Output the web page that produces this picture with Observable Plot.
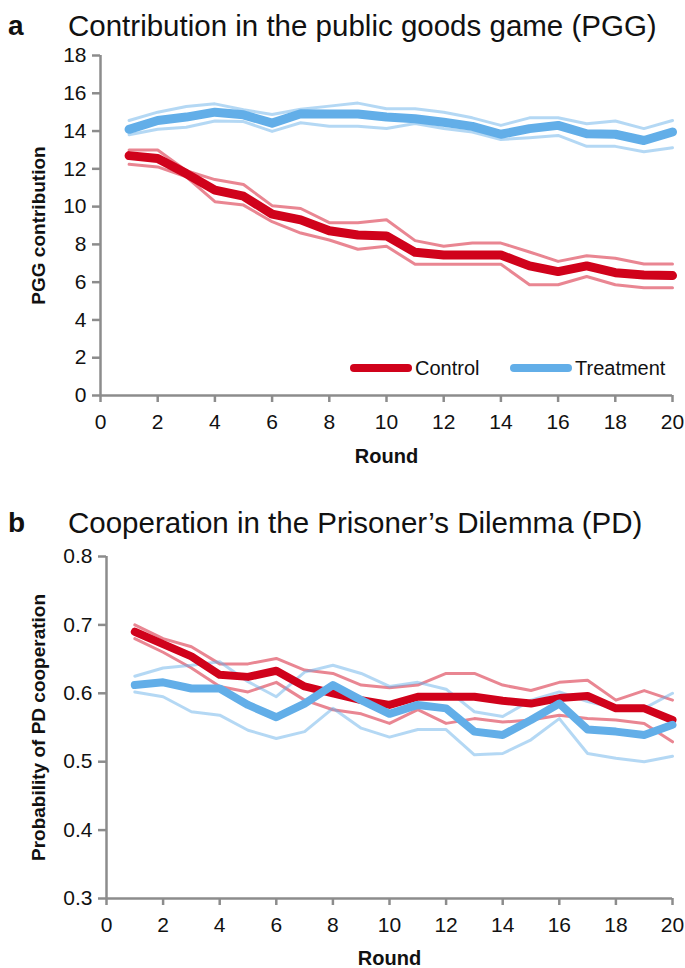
<!DOCTYPE html>
<html><head><meta charset="utf-8">
<script src="https://cdn.jsdelivr.net/npm/d3@7"></script>
<script src="https://cdn.jsdelivr.net/npm/@observablehq/plot@0.6"></script>
<style>
body{margin:0;background:#fff;font-family:"Liberation Sans",Arial,sans-serif;}
#wrap{position:relative;width:685px;height:968px;overflow:hidden;}
.ttl{position:absolute;left:0;width:685px;height:30px;line-height:30px;font-size:29.5px;color:#111;white-space:nowrap;z-index:2;}
.ttl .lt{position:absolute;left:8px;font-weight:bold;font-size:28px;}
.ttl .tx{position:absolute;left:68px;}
.plot{position:absolute;left:0;z-index:1;}
#legend{position:absolute;left:0;top:356px;height:24px;width:685px;font-size:20px;color:#111;z-index:2;}
#legend .sw{position:absolute;top:8px;height:8px;width:62px;border-radius:4px;}
#legend .lb{position:absolute;top:0;line-height:24px;white-space:nowrap;}
</style>
</head><body>
<div id="wrap">
  <div class="plot" id="pa" style="top:40px"></div>
  <div class="plot" id="pb" style="top:540px"></div>
  <div class="ttl" style="top:11px"><span class="lt">a</span><span class="tx">Contribution in the public goods game (PGG)</span></div>
  <div id="legend"></div>
  <div class="ttl" style="top:508px"><span class="lt">b</span><span class="tx">Cooperation in the Prisoner’s Dilemma (PD)</span></div>
</div>
<script>
// ---- data ----
const rounds = [1,2,3,4,5,6,7,8,9,10,11,12,13,14,15,16,17,18,19,20];
const xTicks = [0,2,4,6,8,10,12,14,16,18,20];
const pggTicks = [0,2,4,6,8,10,12,14,16,18];
const pdTicks = [0.3,0.4,0.5,0.6,0.7,0.8];
const seriesNames = ["Control","Treatment"];
const seriesColors = ["#d0021b","#62aee8"];

const pggControl   = [12.7,12.55,11.75,10.87,10.55,9.6,9.3,8.72,8.5,8.45,7.58,7.44,7.44,7.44,6.86,6.56,6.86,6.5,6.38,6.35];
const pggControlHi = [13.0,13.0,11.9,11.43,11.17,10.05,9.9,9.15,9.15,9.3,8.2,7.9,8.07,8.07,7.6,7.1,7.4,7.27,6.96,6.96];
const pggControlLo = [12.24,12.1,11.57,10.26,10.08,9.2,8.6,8.23,7.74,7.9,6.95,6.95,6.95,6.95,5.86,5.86,6.3,5.86,5.7,5.7];
const pggTreat     = [14.09,14.56,14.74,15.0,14.86,14.42,14.92,14.9,14.9,14.74,14.65,14.47,14.25,13.83,14.13,14.3,13.86,13.83,13.5,13.95];
const pggTreatHi   = [14.56,15.0,15.3,15.44,15.13,14.88,15.15,15.32,15.48,15.18,15.18,15.0,14.7,14.3,14.7,14.7,14.39,14.53,14.13,14.56];
const pggTreatLo   = [13.8,14.1,14.2,14.53,14.5,13.98,14.44,14.26,14.26,14.13,14.4,14.13,13.95,13.55,13.65,13.77,13.19,13.19,12.9,13.12];

const pdControl    = [0.69,0.672,0.654,0.627,0.624,0.633,0.61,0.60,0.59,0.583,0.595,0.595,0.595,0.589,0.585,0.593,0.596,0.578,0.578,0.561];
const pdControlHi  = [0.70,0.68,0.668,0.643,0.643,0.651,0.634,0.629,0.612,0.608,0.612,0.629,0.629,0.612,0.604,0.616,0.619,0.59,0.604,0.59];
const pdControlLo  = [0.68,0.66,0.637,0.61,0.602,0.616,0.59,0.576,0.57,0.556,0.576,0.556,0.563,0.558,0.561,0.568,0.563,0.561,0.556,0.529];
const pdTreat      = [0.612,0.616,0.607,0.607,0.583,0.565,0.585,0.612,0.59,0.57,0.583,0.578,0.544,0.539,0.561,0.585,0.547,0.544,0.539,0.554];
const pdTreatHi    = [0.625,0.637,0.641,0.646,0.617,0.595,0.631,0.641,0.629,0.61,0.616,0.606,0.573,0.566,0.59,0.602,0.588,0.578,0.578,0.60];
const pdTreatLo    = [0.602,0.595,0.573,0.568,0.546,0.534,0.544,0.578,0.549,0.536,0.547,0.547,0.51,0.512,0.532,0.563,0.512,0.505,0.50,0.508];

// ---- helpers ----
const rows = vals => rounds.map((r,i)=>({round:r, value:vals[i]}));
const AXIS = "#8c8c8c";

function panel(o){
  const thinMarks = [];
  const thickMarks = [];
  o.series.forEach((s,i)=>{
    const c = seriesColors[i];
    [s.hi, s.lo].forEach(v=>thinMarks.push(Plot.line(rows(v),{x:"round",y:"value",stroke:c,strokeOpacity:0.48,strokeWidth:3,strokeLinejoin:"round"})));
    thickMarks.push(Plot.line(rows(s.mid),{x:"round",y:"value",stroke:c,strokeWidth:o.thickW,strokeLinejoin:"round",strokeLinecap:"round"}));
  });
  return Plot.plot({
    width:685, height:o.height,
    marginLeft:o.marginLeft, marginRight:13, marginTop:o.marginTop, marginBottom:o.marginBottom,
    style:{fontFamily:"Liberation Sans, Arial, sans-serif", fontSize:"21px", color:"#111", background:"transparent"},
    x:{domain:[0,20]},
    y:{domain:o.yDomain},
    marks:[
      ...thinMarks,
      ...thickMarks,
      Plot.ruleX([0],{stroke:AXIS,strokeWidth:2.5}),
      Plot.ruleY([o.yDomain[0]],{stroke:AXIS,strokeWidth:2.5}),
      Plot.axisY({ticks:o.yTicks, tickFormat:o.yFmt, tickSize:8, tickPadding:6, stroke:AXIS, strokeWidth:2.5, fill:"#111", label:null}),
      Plot.axisX({ticks:xTicks, tickFormat:d=>String(d), tickSize:7, tickPadding:12, stroke:AXIS, strokeWidth:2.5, fill:"#111", label:null}),
      Plot.text(["Round"],{frameAnchor:"bottom", dy:o.roundDy, fontWeight:"bold", fontSize:20, fill:"#111"}),
      Plot.text([o.yLabel],{frameAnchor:"left", textAnchor:"middle", dx:-o.labelDx, rotate:-90, fontWeight:"bold", fontSize:19, fill:"#111"})
    ]
  });
}

document.getElementById("pa").append(panel({
  height:440, marginLeft:100, marginTop:15, marginBottom:85,
  yDomain:[0,18], yTicks:pggTicks, yFmt:d=>String(d), yLabel:"PGG contribution",
  roundDy:67, labelDx:62, thickW:9,
  series:[{mid:pggControl,hi:pggControlHi,lo:pggControlLo},{mid:pggTreat,hi:pggTreatHi,lo:pggTreatLo}]
}));
document.getElementById("pb").append(panel({
  height:428, marginLeft:106, marginTop:16, marginBottom:70,
  yDomain:[0.3,0.8], yTicks:pdTicks, yFmt:d3.format(".1f"), yLabel:"Probability of PD cooperation",
  roundDy:66, labelDx:68, thickW:8,
  series:[{mid:pdControl,hi:pdControlHi,lo:pdControlLo},{mid:pdTreat,hi:pdTreatHi,lo:pdTreatLo}]
}));

// legend (panel a)
const lg = document.getElementById("legend");
const legPos = [{sw:350, lb:415},{sw:510, lb:575}];
seriesNames.forEach((n,i)=>{
  const sw = document.createElement("div"); sw.className="sw"; sw.style.left=legPos[i].sw+"px"; sw.style.background=seriesColors[i];
  const lb = document.createElement("div"); lb.className="lb"; lb.style.left=legPos[i].lb+"px"; lb.textContent=n;
  lg.append(sw, lb);
});
</script>
</body></html>
